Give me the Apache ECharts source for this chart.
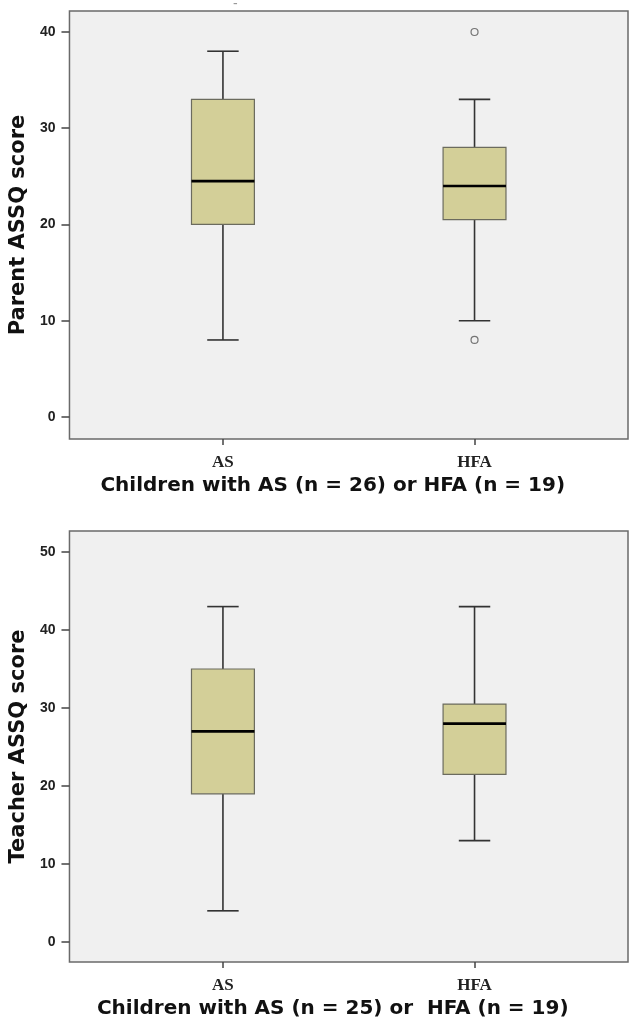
<!DOCTYPE html>
<html>
<head>
<meta charset="utf-8">
<script src="https://cdn.jsdelivr.net/npm/echarts@6/dist/echarts.min.js"></script>
<style>
html,body{margin:0;padding:0;background:#fff;}
#c{width:630px;height:1020px;}
</style>
</head>
<body>
<div id="c"></div>
<script>
// ---- data ----
const categories = ['AS', 'HFA'];
// [low whisker, Q1, median, Q3, high whisker]
const parentBoxes = [[8, 20, 24.5, 33, 38], [10, 20.5, 24, 28, 33]];
const parentOutliers = [[1, 40], [1, 8]];
const teacherBoxes = [[4, 19, 27, 35, 43], [13, 21.5, 28, 30.5, 43]];
const teacherOutliers = [];
const parentTicks = [0, 10, 20, 30, 40];
const teacherTicks = [0, 10, 20, 30, 40, 50];
const parentTitle = 'Parent ASSQ score';
const teacherTitle = 'Teacher ASSQ score';
const parentXTitle = 'Children with AS (n = 26) or HFA (n = 19)';
const teacherXTitle = 'Children with AS (n = 25) or  HFA (n = 19)';

const boxFill = '#d3cf98';
const bg = '#f0f0f0';

function renderBox(params, api) {
  const x = api.value(0);
  const lo = api.coord([x, api.value(1)]);
  const q1 = api.coord([x, api.value(2)]);
  const md = api.coord([x, api.value(3)]);
  const q3 = api.coord([x, api.value(4)]);
  const hi = api.coord([x, api.value(5)]);
  const half = api.size([1, 0])[0] * 0.125;
  const cap = half / 2;
  const cx = lo[0];
  const lineStyle = {stroke: '#333', lineWidth: 1.6};
  return {
    type: 'group',
    children: [
      {type: 'line', shape: {x1: cx, y1: hi[1], x2: cx, y2: q3[1]}, style: lineStyle},
      {type: 'line', shape: {x1: cx, y1: q1[1], x2: cx, y2: lo[1]}, style: lineStyle},
      {type: 'line', shape: {x1: cx - cap, y1: hi[1], x2: cx + cap, y2: hi[1]}, style: lineStyle},
      {type: 'line', shape: {x1: cx - cap, y1: lo[1], x2: cx + cap, y2: lo[1]}, style: lineStyle},
      {type: 'rect', shape: {x: cx - half, y: q3[1], width: half * 2, height: q1[1] - q3[1]},
        style: {fill: boxFill, stroke: '#6b6b5e', lineWidth: 1.2}},
      {type: 'line', shape: {x1: cx - half, y1: md[1], x2: cx + half, y2: md[1]},
        style: {stroke: '#000', lineWidth: 2.6}}
    ]
  };
}

function boxData(boxes) {
  return boxes.map((b, i) => [i].concat(b));
}

const tickFont = {fontFamily: '"Liberation Sans", Arial, sans-serif', fontWeight: 'bold', fontSize: 14, color: '#222'};
const catFont = {fontFamily: '"Liberation Serif", "DejaVu Serif", serif', fontWeight: 'bold', fontSize: 17, color: '#222'};
const xTitleFont = {fontFamily: '"DejaVu Sans", sans-serif', fontWeight: 'bold', fontSize: 20, color: '#111', padding: [0, 32, 0, 0]};
const yTitleFont = {fontFamily: '"DejaVu Sans", sans-serif', fontWeight: 'bold', fontSize: 21, color: '#111'};

function xAxisCfg(gridIndex, name) {
  return {
    gridIndex: gridIndex, type: 'value', min: -0.61, max: 1.61,
    axisLine: {show: false, onZero: false}, splitLine: {show: false},
    axisTick: {show: true, customValues: [0, 1], length: 6, lineStyle: {color: '#444', width: 1.5}},
    axisLabel: Object.assign({customValues: [0, 1], margin: 15, formatter: v => categories[Math.round(v)] || ''}, catFont),
    name: name, nameLocation: 'middle', nameGap: 37, nameTextStyle: xTitleFont
  };
}
function yAxisCfg(gridIndex, min, max, ticks, name) {
  return {
    gridIndex: gridIndex, type: 'value', min: min, max: max,
    axisLine: {show: false, onZero: false}, splitLine: {show: false},
    axisTick: {show: true, customValues: ticks, length: 8, lineStyle: {color: '#444', width: 1.5}},
    axisLabel: Object.assign({customValues: ticks, margin: 14}, tickFont),
    name: name, nameLocation: 'middle', nameGap: 37, nameRotate: 90, nameTextStyle: yTitleFont
  };
}

const chart = echarts.init(document.getElementById('c'), null, {renderer: 'canvas'});
chart.setOption({
  backgroundColor: '#fff',
  animation: false,
  graphic: [{type: 'text', left: 233, top: -3, style: {text: '-', fill: '#999', font: '14px sans-serif'}}],
  grid: [
    {left: 69, top: 11, width: 559, height: 428, show: true, backgroundColor: bg, borderColor: '#6a6a6a', borderWidth: 1.5},
    {left: 69, top: 531, width: 559, height: 431, show: true, backgroundColor: bg, borderColor: '#6a6a6a', borderWidth: 1.5}
  ],
  xAxis: [xAxisCfg(0, parentXTitle), xAxisCfg(1, teacherXTitle)],
  yAxis: [yAxisCfg(0, -2.29, 42.18, parentTicks, parentTitle), yAxisCfg(1, -2.56, 52.69, teacherTicks, teacherTitle)],
  series: [
    {type: 'custom', xAxisIndex: 0, yAxisIndex: 0, renderItem: renderBox, data: boxData(parentBoxes), encode: {x: 0, y: [1, 2, 3, 4, 5]}},
    {type: 'scatter', xAxisIndex: 0, yAxisIndex: 0, data: parentOutliers, symbol: 'circle', symbolSize: 7,
      itemStyle: {color: bg, borderColor: '#555', borderWidth: 1.2}},
    {type: 'custom', xAxisIndex: 1, yAxisIndex: 1, renderItem: renderBox, data: boxData(teacherBoxes), encode: {x: 0, y: [1, 2, 3, 4, 5]}},
    {type: 'scatter', xAxisIndex: 1, yAxisIndex: 1, data: teacherOutliers, symbol: 'circle', symbolSize: 7,
      itemStyle: {color: bg, borderColor: '#555', borderWidth: 1.2}}
  ]
});
</script>
</body>
</html>
